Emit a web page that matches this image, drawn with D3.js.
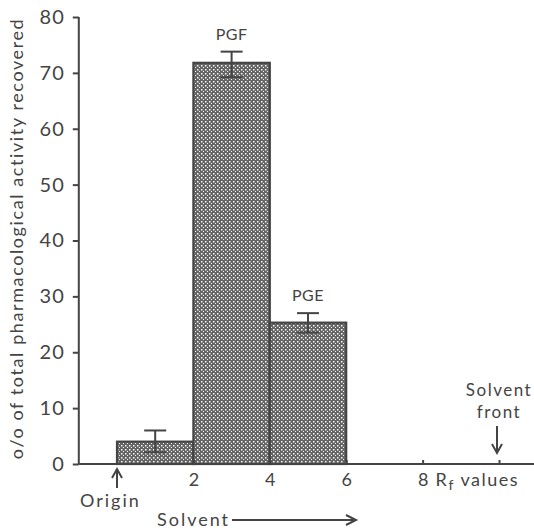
<!DOCTYPE html>
<html>
<head>
<meta charset="utf-8">
<script src="https://cdn.jsdelivr.net/npm/d3@7"></script>
<style>
  body { margin: 0; background: #fff; }
  #box { width: 534px; height: 529px; }
  text { font-family: Lato, "Open Sans", sans-serif; fill: #444; }
</style>
</head>
<body>
<div id="box"></div>
<script>
// data
const binStart = [0, 2, 4];
const binEnd = [2, 4, 6];
const values = [4.0, 71.8, 25.3];
const errLow = [2.1, 69.2, 23.5];
const errHigh = [6.0, 73.8, 27.0];
const barLabels = ['', 'PGF', 'PGE'];
const yTicks = [0, 10, 20, 30, 40, 50, 60, 70, 80];
const xTicks = [2, 4, 6, 8];

const width = 534;
const height = 529;
const ink = '#444';

const svg = d3.select('#box').append('svg')
  .attr('width', width)
  .attr('height', height);

// cross hatch fill
const defs = svg.append('defs');
const pat = defs.append('pattern')
  .attr('id', 'hatch')
  .attr('patternUnits', 'userSpaceOnUse')
  .attr('width', 4)
  .attr('height', 4);
pat.append('rect').attr('width', 4).attr('height', 4).attr('fill', '#666');
pat.append('rect').attr('x', 1).attr('y', 1).attr('width', 1.5).attr('height', 1.5).attr('fill', '#f4f4f4');
pat.append('rect').attr('x', 3).attr('y', 3).attr('width', 1.5).attr('height', 1.5).attr('fill', '#f4f4f4');

const x = d3.scaleLinear().domain([0, 10]).range([117, 499]);
const y = d3.scaleLinear().domain([0, 80]).range([464, 17]);

// bars
const bars = svg.append('g');
bars.selectAll('rect').data(values)
  .join('rect')
  .attr('x', (d, i) => x(binStart[i]))
  .attr('y', d => y(d))
  .attr('width', (d, i) => x(binEnd[i]) - x(binStart[i]))
  .attr('height', d => y(0) - y(d))
  .attr('fill', 'url(#hatch)')
  .attr('stroke', ink)
  .attr('stroke-width', 2.2);

// error bars
const errs = svg.append('g').attr('stroke', ink).attr('stroke-width', 2);
values.forEach((v, i) => {
  const cx = (x(binStart[i]) + x(binEnd[i])) / 2;
  errs.append('line').attr('x1', cx).attr('x2', cx).attr('y1', y(errHigh[i])).attr('y2', y(errLow[i]));
  errs.append('line').attr('x1', cx - 11).attr('x2', cx + 11).attr('y1', y(errHigh[i])).attr('y2', y(errHigh[i]));
  errs.append('line').attr('x1', cx - 11).attr('x2', cx + 11).attr('y1', y(errLow[i])).attr('y2', y(errLow[i]));
  if (barLabels[i]) {
    svg.append('text')
      .attr('x', cx)
      .attr('y', y(errHigh[i]) - 12)
      .attr('text-anchor', 'middle')
      .style('font-size', '16px')
      .style('letter-spacing', '0.5px')
      .text(barLabels[i]);
  }
});

// y axis
const yAxis = svg.append('g')
  .attr('transform', `translate(${x(-1)},0)`)
  .call(d3.axisLeft(y).tickValues(yTicks).tickSize(6).tickPadding(8));
yAxis.select('.domain').attr('d', `M-0,${y(80)}V${y(0)}`);
yAxis.selectAll('line, path').attr('stroke', ink).attr('stroke-width', 2);
yAxis.selectAll('text').style('font-size', '20px').style('font-family', 'Lato, sans-serif')
  .style('letter-spacing', '1px').attr('fill', '#444');

// x axis
const xAxis = svg.append('g')
  .attr('transform', `translate(0,${y(0)})`)
  .call(d3.axisBottom(x).tickValues(xTicks.concat([10])).tickSize(-4).tickPadding(9)
    .tickFormat(d => d === 10 ? '' : d));
xAxis.select('.domain').attr('d', `M${x(-1)},0H${width}`);
xAxis.selectAll('line, path').attr('stroke', ink).attr('stroke-width', 2);
xAxis.selectAll('text').style('font-size', '18px').style('font-family', 'Lato, sans-serif').attr('fill', '#444');

// Rf values label
const rf = svg.append('text')
  .attr('x', x(8) + 13)
  .attr('y', 486)
  .style('font-size', '18px')
  .style('letter-spacing', '1.5px');
rf.append('tspan').text('R');
rf.append('tspan').attr('dy', 4).style('font-size', '14px').text('f');
rf.append('tspan').attr('dy', -4).text(' values');

// arrows
const arrowHead = (g, px, py, dir) => {
  let d;
  if (dir === 'up') d = `M${px - 5},${py + 9}L${px},${py}L${px + 5},${py + 9}`;
  if (dir === 'down') d = `M${px - 5},${py - 9}L${px},${py}L${px + 5},${py - 9}`;
  if (dir === 'right') d = `M${px - 10},${py - 5}L${px},${py}L${px - 10},${py + 5}`;
  g.append('path').attr('d', d).attr('fill', 'none').attr('stroke', ink).attr('stroke-width', 2);
};

const ann = svg.append('g');
// origin
ann.append('line').attr('x1', x(0)).attr('x2', x(0)).attr('y1', 469).attr('y2', 488).attr('stroke', ink).attr('stroke-width', 2);
arrowHead(ann, x(0), 469, 'up');
svg.append('text').attr('x', 80).attr('y', 507).style('font-size', '18px').style('letter-spacing', '2px').text('Origin');

// solvent direction
svg.append('text').attr('x', 157).attr('y', 526).style('font-size', '18px').style('letter-spacing', '2px').text('Solvent');
ann.append('line').attr('x1', 232).attr('x2', 355).attr('y1', 520).attr('y2', 520).attr('stroke', ink).attr('stroke-width', 2);
arrowHead(ann, 356, 520, 'right');

// solvent front
svg.append('text').attr('x', x(10)).attr('y', 396).attr('text-anchor', 'middle').style('font-size', '17px').style('letter-spacing', '1.5px').text('Solvent');
svg.append('text').attr('x', x(10)).attr('y', 418).attr('text-anchor', 'middle').style('font-size', '17px').style('letter-spacing', '1.5px').text('front');
ann.append('line').attr('x1', x(10) - 2).attr('x2', x(10) - 2).attr('y1', 426).attr('y2', 453).attr('stroke', ink).attr('stroke-width', 2);
arrowHead(ann, x(10) - 2, 453, 'down');

// y title
svg.append('text')
  .attr('transform', `translate(23,${(y(0) + y(80)) / 2 - 2}) rotate(-90)`)
  .attr('text-anchor', 'middle')
  .style('font-size', '18px')
  .style('letter-spacing', '1.6px')
  .text('o/o of total pharmacological activity recovered');
</script>
</body>
</html>
